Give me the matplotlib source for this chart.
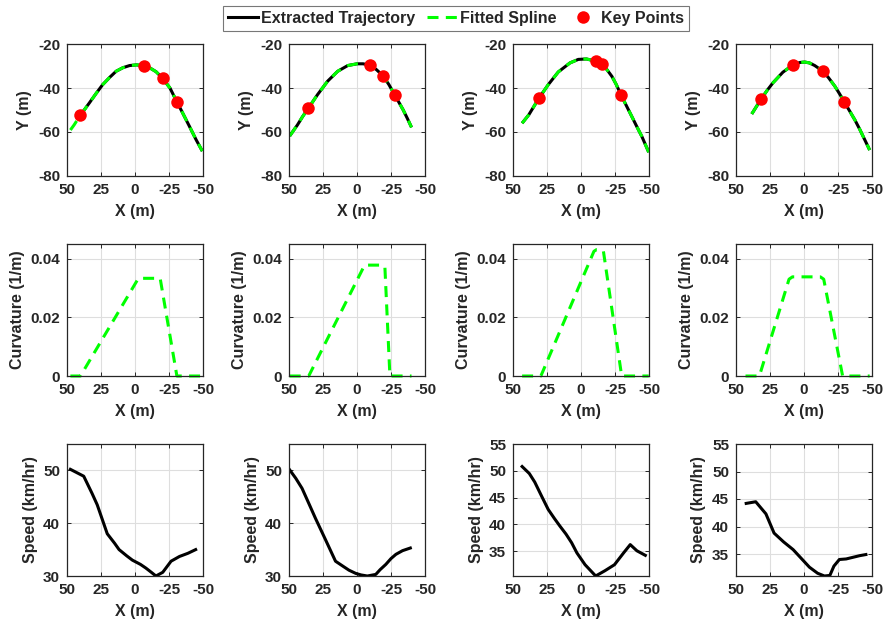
import matplotlib
matplotlib.use("Agg")
from matplotlib import pyplot as plt
from matplotlib.lines import Line2D

plt.rcParams['font.family'] = ['Liberation Sans', 'DejaVu Sans']
plt.rcParams['font.weight'] = 'bold'
plt.rcParams['axes.labelweight'] = 'bold'
plt.rcParams['axes.unicode_minus'] = False

# trajectory / fitted spline, one list per scene (X, Y in m)
path_x = [
    [47.5, 44.8, 40.3, 33.7, 28.5, 23.8, 18.5, 13.9, 9, 4.0, -1, -6.7, -11, -15.5, -20.3, -25.7, -30.9, -35, -40, -45, -49.5],
    [49.5, 43.8, 40, 35.9, 29, 21.6, 14.2, 6.8, 0, -4.5, -9.2, -14, -19.1, -23.5, -27.7, -33.9, -37, -40.1],
    [43.3, 38.4, 31, 24.1, 16.7, 8.1, 2, -4, -10.8, -15.3, -19, -22.7, -26, -29.6, -33.5, -37.4, -41, -44.8, -49.8],
    [38.4, 31.5, 27, 22.9, 15.5, 8.1, 3, -0.5, -4, -7.9, -14.0, -18, -22.7, -26, -29.6, -33.5, -37.4, -41, -44.8, -48.3],
]
path_y = [
    [-59.1, -56.8, -52.5, -46.9, -42.4, -38.5, -35.1, -32.4, -30.8, -29.8, -29.5, -29.8, -30.9, -32.6, -35.6, -40.0, -46.4, -51.3, -57.4, -63.6, -68.7],
    [-61.8, -56.8, -53, -49.3, -43, -36.9, -32.4, -29.8, -29.0, -29.0, -29.6, -31.5, -34.4, -38.5, -43.1, -49.9, -53.8, -57.9],
    [-56, -52.2, -44.7, -38.5, -32.7, -28.6, -27.0, -26.8, -27.8, -29.3, -31.6, -34.7, -38.5, -43.4, -48.2, -53.0, -57.5, -62.1, -69.2],
    [-51.8, -45.0, -41, -37.7, -32.8, -29.5, -28.4, -28.2, -28.6, -29.8, -32.4, -35.3, -39.2, -42.5, -46.3, -50.4, -54.5, -58.8, -63.7, -68.2],
]
# index where the extracted trajectory starts (spline is extrapolated before it)
traj_start = [2, 0, 0, 0]

key_x = [
    [40.3, -6.7, -20.3, -30.9],
    [35.9, -9.2, -19.1, -27.7],
    [31.0, -10.8, -15.3, -29.6],
    [31.5, 8.1, -14.0, -29.6],
]
key_y = [
    [-52.5, -29.8, -35.6, -46.4],
    [-49.3, -29.6, -34.4, -43.1],
    [-44.7, -27.8, -29.3, -43.4],
    [-45.0, -29.5, -32.4, -46.3],
]

curv_x = [
    [47.5, 40.1, -2.5, -18.5, -30.8, -49.5],
    [49.5, 35.5, -5.6, -18.9, -20.5, -24.2, -40.1],
    [43.3, 29.5, -9.5, -11.5, -15.0, -16.5, -29.9, -49.8],
    [43.0, 32.8, 11.0, 8.5, -12.0, -14.5, -28.4, -48.3],
]
curv_k = [
    [0, 0, 0.0333, 0.0333, 0, 0],
    [0, 0, 0.0378, 0.0378, 0.0372, 0, 0],
    [0, 0, 0.0425, 0.0431, 0.0431, 0.0425, 0, 0],
    [0, 0, 0.0330, 0.0338, 0.0338, 0.0330, 0, 0],
]

speed_x = [
    [47.5, 37.7, 31.5, 27.8, 20.4, 15, 11.7, 6, 1.9, -4, -8, -12, -15.4, -20.4, -26.5, -32.7, -38.9, -44.6],
    [49.5, 45, 40.4, 35, 30.5, 23.2, 15.8, 10, 5.9, 1, -3, -7.6, -13.8, -17, -21.2, -25, -28.6, -33.5, -39.2],
    [43.3, 38, 34, 29, 24.1, 19.5, 15.5, 11, 6.9, 3, -3, -10.8, -17.7, -24.6, -31.3, -36.2, -41.1, -47.3],
    [42.5, 35.5, 28, 22, 15, 8, 2, -4, -10, -15, -19, -22, -26, -31, -36, -41, -45.5],
]
speed_v = [
    [50.2, 48.9, 45.6, 43.5, 38.0, 36.2, 35.0, 33.8, 33.0, 32.2, 31.5, 30.7, 30.0, 30.7, 32.8, 33.7, 34.3, 35.0],
    [50.1, 48.5, 46.6, 43.5, 40.9, 36.9, 32.8, 31.8, 31.1, 30.5, 30.2, 30.0, 30.3, 31.2, 32.2, 33.3, 34.1, 34.8, 35.3],
    [50.8, 49.5, 47.9, 45.3, 42.8, 41.1, 39.7, 38.2, 36.6, 34.7, 32.5, 30.4, 31.4, 32.5, 34.7, 36.25, 35.1, 34.25],
    [44.2, 44.5, 42.3, 38.8, 37.2, 35.8, 34.2, 32.6, 31.5, 31.0, 31.1, 32.8, 34.0, 34.1, 34.4, 34.7, 34.9],
]
speed_ticks = [[30, 40, 50], [30, 40, 50], [35, 40, 45, 50, 55], [35, 40, 45, 50, 55]]

x_ticks = [50, 25, 0, -25, -50]

W, H = 886, 629
fig = plt.figure(figsize=(W / 100, H / 100), dpi=100)

col_left = [67, 289, 513, 736]
row_top = [44, 244, 444]
aw, ah = 136, 132

ink = '#262626'


def make_ax(r, c):
    ax = fig.add_axes([col_left[c] / W, 1 - (row_top[r] + ah) / H, aw / W, ah / H])
    ax.set_xlim(50, -50)
    ax.set_xticks(x_ticks)
    ax.set_xticklabels([str(t) for t in x_ticks])
    ax.grid(True, color='#dedede', linewidth=0.8)
    ax.set_axisbelow(True)
    ax.tick_params(direction='in', length=3, width=0.7, top=True, right=True,
                   labelsize=11, colors=ink)
    ax.tick_params(axis='x', pad=5)
    ax.tick_params(axis='y', pad=5)
    for s in ax.spines.values():
        s.set_color(ink)
        s.set_linewidth(0.9)
    ax.set_xlabel('X (m)', fontsize=11.5, color=ink, labelpad=5)
    return ax


for c in range(4):
    # row 1: trajectory
    ax = make_ax(0, c)
    s = traj_start[c]
    ax.plot(path_x[c][s:], path_y[c][s:], color='k', lw=2.2, solid_capstyle='butt')
    ax.plot(path_x[c], path_y[c], color='#00ff00', lw=2.2, linestyle=(0, (3.6, 2.4)))
    ax.plot(key_x[c], key_y[c], 'o', color='#ff0000', markersize=9, markeredgewidth=0)
    ax.set_ylim(-80, -20)
    ax.set_yticks([-80, -60, -40, -20])
    ax.set_ylabel('Y (m)', fontsize=11.5, color=ink, labelpad=4)

    # row 2: curvature
    ax = make_ax(1, c)
    ax.plot(curv_x[c], curv_k[c], color='#00ff00', lw=2.2, linestyle=(0, (3.6, 2.4)), clip_on=False)
    ax.set_ylim(0, 0.045)
    ax.set_yticks([0, 0.02, 0.04])
    ax.set_yticklabels(['0', '0.02', '0.04'])
    ax.set_ylabel('Curvature (1/m)', fontsize=11.5, color=ink, labelpad=4)

    # row 3: speed
    ax = make_ax(2, c)
    ax.plot(speed_x[c], speed_v[c], color='k', lw=2.2)
    ax.set_ylim(min(speed_v[c]), 55)
    ax.set_yticks(speed_ticks[c])
    ax.set_ylabel('Speed (km/hr)', fontsize=11.5, color=ink, labelpad=4)

handles = [
    Line2D([], [], color='k', lw=2.2),
    Line2D([], [], color='#00ff00', lw=2.2, linestyle=(0, (3.6, 2.4))),
    Line2D([], [], color='#ff0000', marker='o', markersize=9, markeredgewidth=0, linestyle='none'),
]
leg = fig.legend(handles, ['Extracted Trajectory', 'Fitted Spline', 'Key Points'],
                 loc='upper center', bbox_to_anchor=(456 / W, 1 - 3 / H), ncol=3,
                 frameon=True, fancybox=False, handlelength=1.9,
                 handletextpad=0.2, columnspacing=0.7, borderpad=0.3, borderaxespad=0.2,
                 prop={'weight': 'bold', 'size': 11.5})
leg.get_frame().set_edgecolor('#555555')
leg.get_frame().set_linewidth(0.8)
for t in leg.get_texts():
    t.set_color(ink)

fig.savefig('out.png', dpi=100)
